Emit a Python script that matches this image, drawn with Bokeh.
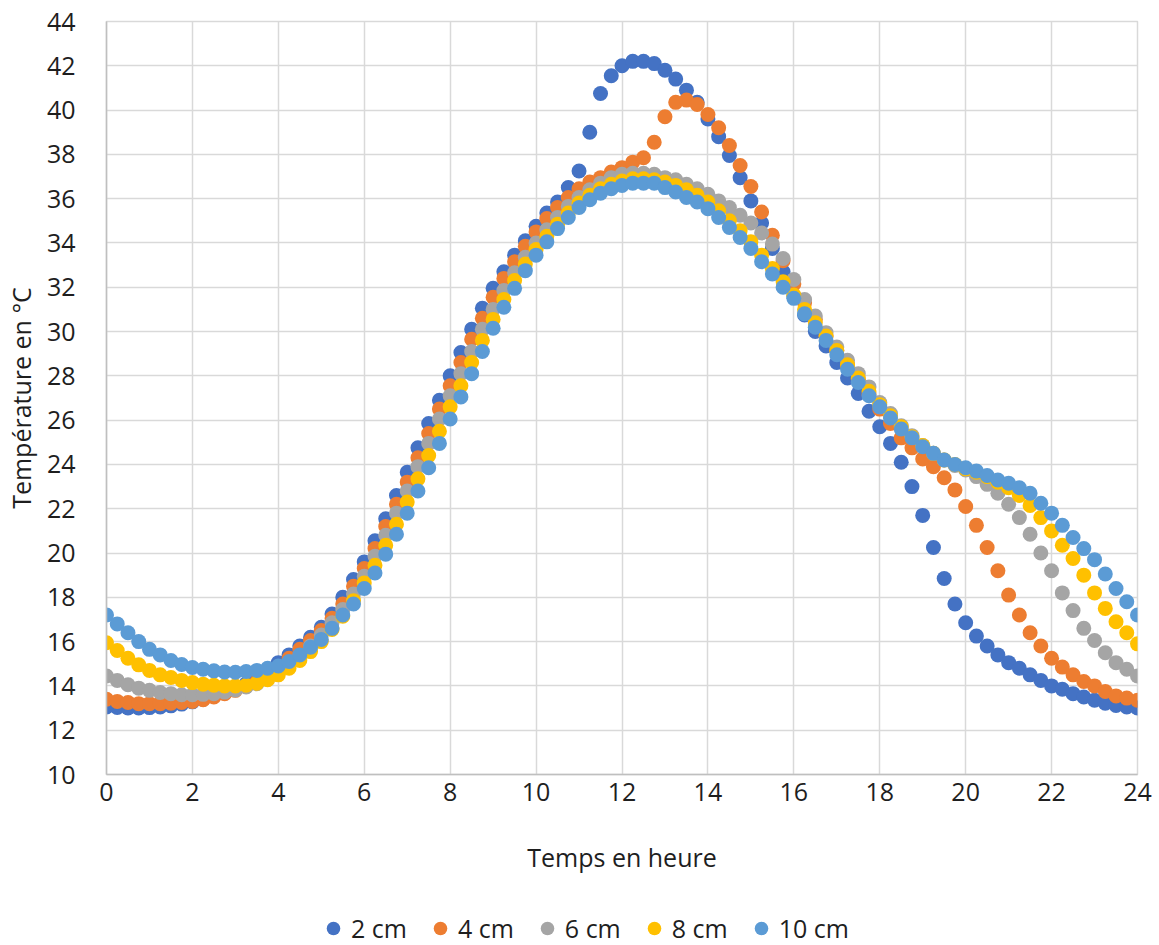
from bokeh.plotting import figure
from bokeh.layouts import column
from bokeh.models import Legend, LegendItem, FixedTicker
from bokeh.embed import file_html
from bokeh.resources import INLINE

# ---- data -------------------------------------------------------------
hours = [i * 0.25 for i in range(97)]  # one reading every 15 minutes, 0 h -> 24 h

t_2cm = [13.05, 13.03, 13.0, 13.0, 13.02, 13.05, 13.1, 13.18, 13.28, 13.4,
         13.55, 13.72, 13.9, 14.1, 14.4, 14.72, 15.05, 15.4, 15.8, 16.2,
         16.65, 17.25, 18.0, 18.8, 19.6, 20.55, 21.55, 22.6, 23.65, 24.75,
         25.85, 26.9, 28.0, 29.05, 30.1, 31.05, 31.95, 32.7, 33.45, 34.1,
         34.75, 35.35, 35.85, 36.5, 37.25, 39.0, 40.75, 41.55, 42.0, 42.2,
         42.2, 42.1, 41.8, 41.4, 40.9, 40.35, 39.6, 38.8, 37.95, 36.95,
         35.9, 34.9, 33.75, 32.7, 31.6, 30.75, 30.0, 29.35, 28.6, 27.9,
         27.2, 26.4, 25.7, 24.95, 24.1, 23.0, 21.7, 20.25, 18.85, 17.7,
         16.85, 16.25, 15.8, 15.4, 15.05, 14.8, 14.5, 14.25, 14.0, 13.85,
         13.65, 13.5, 13.35, 13.22, 13.12, 13.05, 13.0]

t_4cm = [13.4, 13.3, 13.25, 13.2, 13.2, 13.2, 13.22, 13.25, 13.3, 13.38,
         13.5, 13.65, 13.8, 13.98, 14.2, 14.5, 14.85, 15.25, 15.65, 16.05,
         16.5, 17.05, 17.7, 18.5, 19.3, 20.2, 21.2, 22.2, 23.2, 24.3,
         25.4, 26.5, 27.55, 28.6, 29.65, 30.6, 31.55, 32.4, 33.15, 33.85,
         34.5, 35.1, 35.6, 36.05, 36.45, 36.75, 36.95, 37.2, 37.4, 37.65,
         37.85, 38.55, 39.7, 40.35, 40.45, 40.25, 39.8, 39.2, 38.4, 37.5,
         36.55, 35.4, 34.35, 33.2, 32.15, 31.3, 30.55, 29.8, 29.15, 28.5,
         27.85, 27.15, 26.5, 25.85, 25.2, 24.75, 24.25, 23.9, 23.4, 22.85,
         22.1, 21.25, 20.25, 19.2, 18.1, 17.2, 16.4, 15.8, 15.25, 14.85,
         14.5, 14.2, 14.0, 13.75, 13.55, 13.45, 13.35]

t_6cm = [14.45, 14.25, 14.05, 13.9, 13.8, 13.7, 13.65, 13.6, 13.6, 13.62,
         13.65, 13.72, 13.82, 13.95, 14.1, 14.3, 14.6, 14.95, 15.35, 15.8,
         16.3, 16.85, 17.45, 18.15, 18.95, 19.85, 20.8, 21.8, 22.8, 23.9,
         24.95, 26.05, 27.1, 28.1, 29.1, 30.1, 31.0, 31.85, 32.65, 33.35,
         34.0, 34.6, 35.15, 35.65, 36.05, 36.4, 36.7, 36.95, 37.1, 37.15,
         37.15, 37.1, 36.95, 36.85, 36.65, 36.45, 36.2, 35.9, 35.6, 35.25,
         34.9, 34.45, 33.95, 33.3, 32.35, 31.45, 30.7, 29.95, 29.3, 28.7,
         28.1, 27.5, 26.8, 26.3, 25.75, 25.3, 24.85, 24.5, 24.2, 23.95,
         23.75, 23.45, 23.1, 22.7, 22.2, 21.6, 20.85, 20.0, 19.2, 18.2,
         17.4, 16.6, 16.05, 15.5, 15.05, 14.75, 14.45]

t_8cm = [15.95, 15.6, 15.25, 14.95, 14.7, 14.5, 14.38, 14.25, 14.15, 14.08,
         14.03, 14.0, 14.0, 14.03, 14.12, 14.28, 14.5, 14.8, 15.15, 15.55,
         16.0, 16.55, 17.15, 17.85, 18.65, 19.45, 20.35, 21.3, 22.3, 23.35,
         24.4, 25.5, 26.6, 27.55, 28.6, 29.6, 30.55, 31.45, 32.3, 33.05,
         33.7, 34.3, 34.85, 35.35, 35.8, 36.15, 36.45, 36.65, 36.8, 36.9,
         36.9, 36.85, 36.75, 36.6, 36.4, 36.15, 35.85, 35.45, 35.0, 34.55,
         34.05, 33.45, 32.85, 32.25, 31.65, 31.0, 30.4, 29.8, 29.15, 28.5,
         27.9, 27.3, 26.7, 26.2, 25.7, 25.25, 24.85, 24.5, 24.2, 24.0,
         23.8, 23.65, 23.45, 23.2, 22.95, 22.6, 22.15, 21.6, 21.0, 20.35,
         19.75, 19.0, 18.2, 17.5, 16.9, 16.4, 15.9]

t_10cm = [17.2, 16.8, 16.4, 16.0, 15.65, 15.4, 15.15, 14.97, 14.83, 14.75,
          14.68, 14.63, 14.62, 14.65, 14.7, 14.8, 14.9, 15.1, 15.4, 15.75,
          16.1, 16.6, 17.2, 17.7, 18.4, 19.1, 19.95, 20.85, 21.8, 22.8,
          23.85, 24.95, 26.05, 27.05, 28.1, 29.1, 30.15, 31.1, 31.95, 32.75,
          33.45, 34.05, 34.65, 35.15, 35.6, 35.95, 36.25, 36.45, 36.6, 36.7,
          36.7, 36.7, 36.5, 36.3, 36.05, 35.85, 35.55, 35.15, 34.7, 34.25,
          33.75, 33.15, 32.6, 32.0, 31.5, 30.8, 30.2, 29.6, 28.95, 28.3,
          27.7, 27.1, 26.6, 26.1, 25.6, 25.2, 24.8, 24.5, 24.2, 24.0,
          23.85, 23.7, 23.5, 23.3, 23.15, 22.95, 22.7, 22.25, 21.8, 21.25,
          20.7, 20.2, 19.7, 19.05, 18.4, 17.8, 17.2]

series_names = ["2 cm", "4 cm", "6 cm", "8 cm", "10 cm"]
series_values = [t_2cm, t_4cm, t_6cm, t_8cm, t_10cm]
series_colors = ["#4472C4", "#ED7D31", "#A5A5A5", "#FFC000", "#5B9BD5"]

x_ticks = [0, 2, 4, 6, 8, 10, 12, 14, 16, 18, 20, 22, 24]
y_ticks = [10, 12, 14, 16, 18, 20, 22, 24, 26, 28, 30, 32, 34, 36, 38, 40, 42, 44]

x_title = "Temps en heure"
y_title = "Température en °C"

FONT = "Open Sans"
TEXT = "#1E1E1E"
GRID = "#D9D9D9"

# ---- main chart -------------------------------------------------------
p = figure(frame_width=1031, frame_height=753,
           x_range=(0, 24), y_range=(10, 44),
           output_backend="svg", toolbar_location=None,
           min_border_left=106, min_border_top=21,
           min_border_right=22, min_border_bottom=126)
p.background_fill_color = "white"
p.border_fill_color = "white"
p.outline_line_color = GRID
p.outline_line_width = 1.5

p.xaxis.ticker = FixedTicker(ticks=x_ticks)
p.yaxis.ticker = FixedTicker(ticks=y_ticks)

for ax in (p.xaxis[0], p.yaxis[0]):
    ax.axis_line_color = "#BFBFBF"
    ax.axis_line_width = 1.5
    ax.major_tick_line_color = None
    ax.minor_tick_line_color = None
    ax.major_tick_out = 0
    ax.major_tick_in = 0
    ax.minor_tick_out = 0
    ax.minor_tick_in = 0
    ax.major_label_text_font = FONT
    ax.major_label_text_font_size = "25px"
    ax.major_label_text_color = TEXT
    ax.axis_label_text_font = FONT
    ax.axis_label_text_font_size = "25px"
    ax.axis_label_text_font_style = "normal"
    ax.axis_label_text_color = TEXT

p.xaxis.axis_label = x_title
p.yaxis.axis_label = y_title
p.xaxis.major_label_standoff = 8
p.xaxis.axis_label_standoff = 36
p.yaxis.major_label_standoff = 31
p.yaxis.axis_label_standoff = 6

p.xgrid.grid_line_color = GRID
p.ygrid.grid_line_color = GRID
p.xgrid.grid_line_width = 1.5
p.ygrid.grid_line_width = 1.5

for vals, col in zip(series_values, series_colors):
    p.scatter(hours, vals, marker="circle", size=15,
              fill_color=col, line_color=None)

# ---- legend strip below the chart -------------------------------------
# The strip's ranges exclude the data, so its renderers only feed the legend.
pl = figure(width=1159, height=45, x_range=(-2, -1), y_range=(-2, -1),
            output_backend="svg", toolbar_location=None,
            x_axis_location=None, y_axis_location=None,
            min_border_left=0, min_border_right=0,
            min_border_top=0, min_border_bottom=0)
pl.outline_line_color = None
pl.xgrid.visible = False
pl.ygrid.visible = False
pl.background_fill_color = "white"
pl.border_fill_color = "white"

items = []
for name, vals, col in zip(series_names, series_values, series_colors):
    r = pl.scatter(hours, vals, marker="circle", size=15,
                   fill_color=col, line_color=None)
    items.append(LegendItem(label=name, renderers=[r]))

legend = Legend(items=items, orientation="horizontal", location=(209, 0),
                label_text_font=FONT, label_text_font_size="25px",
                label_text_color=TEXT, glyph_width=36, glyph_height=34,
                label_standoff=0, spacing=15, padding=0, margin=0,
                border_line_color=None, background_fill_alpha=0)
pl.add_layout(legend, "center")

layout = column(p, pl, spacing=0)
open("out.html", "w").write(file_html(layout, INLINE))
